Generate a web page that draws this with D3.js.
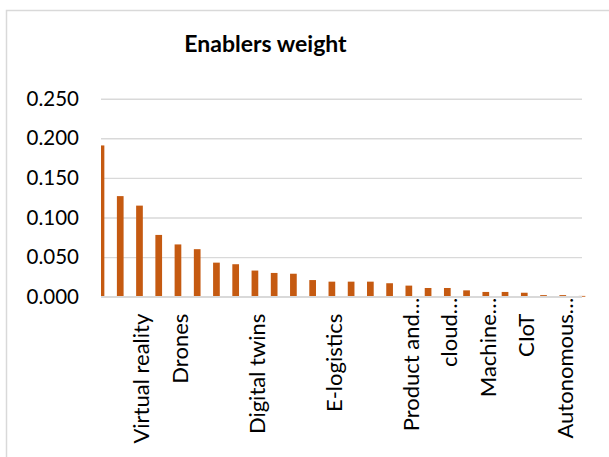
<!DOCTYPE html>
<html>
<head>
<meta charset="utf-8">
<script src="https://cdn.jsdelivr.net/npm/d3@7"></script>
<style>
  html, body { margin: 0; padding: 0; background: #fff; }
  svg { display: block; }
  text { font-family: Lato, "Open Sans", sans-serif; fill: #000; }
</style>
</head>
<body>
<svg id="chart" width="609" height="457"></svg>
<script>
// Weight of each enabler, in ranked order
const weights = [0.191, 0.127, 0.115, 0.078, 0.066, 0.060, 0.043, 0.041, 0.033,
                 0.030, 0.029, 0.021, 0.019, 0.019, 0.019, 0.017, 0.014, 0.011,
                 0.011, 0.008, 0.006, 0.006, 0.005, 0.002, 0.002, 0.001];
// Category labels shown on the axis (only every other slot has room for one)
const categoryLabels = ["", "", "Virtual reality", "", "Drones", "", "", "",
                        "Digital twins", "", "", "", "E-logistics", "", "", "",
                        "Product and…", "", "cloud…", "", "Machine…", "", "CIoT", "",
                        "Autonomous…", ""];
const yTicks = [0, 0.05, 0.10, 0.15, 0.20, 0.25];
const chartTitle = "Enablers weight";

const svg = d3.select("#chart");
const plot = { left: 101, right: 582, top: 98.7, bottom: 296.7 };

// outer chart frame
svg.append("rect")
  .attr("x", 6.5).attr("y", 10.5)
  .attr("width", 640).attr("height", 480)
  .attr("fill", "none").attr("stroke", "#d9d9d9").attr("stroke-width", 1.5);

svg.append("text")
  .attr("x", 265.5).attr("y", 52)
  .attr("text-anchor", "middle")
  .style("font-weight", "bold").style("font-size", "23px")
  .text(chartTitle);

const idx = d3.range(weights.length);
const x = d3.scalePoint().domain(idx).range([plot.left, plot.right]);
const y = d3.scaleLinear().domain([0, 0.25]).range([plot.bottom, plot.top]);

// gridlines + value axis labels
const yAxis = d3.axisLeft(y).tickValues(yTicks).tickFormat(d3.format(".3f"))
  .tickSize(-(plot.right - plot.left)).tickPadding(22);
const gy = svg.append("g").attr("transform", `translate(${plot.left},0)`).call(yAxis);
gy.select(".domain").remove();
gy.selectAll(".tick line").attr("stroke", "#d9d9d9").attr("stroke-width", 1.4);
gy.selectAll(".tick text").style("font-size", "20.5px").attr("font-family", null);

// bars, clipped to the plot area so the first bar sits on the edge
svg.append("clipPath").attr("id", "plotClip")
  .append("rect").attr("x", plot.left).attr("y", 0)
  .attr("width", plot.right - plot.left + 6).attr("height", plot.bottom + 1);

const barW = 6.7;
svg.append("g").attr("clip-path", "url(#plotClip)")
  .selectAll("rect").data(idx).join("rect")
  .attr("x", i => x(i) - barW / 2)
  .attr("width", barW)
  .attr("y", i => y(weights[i]))
  .attr("height", i => y(0) - y(weights[i]))
  .attr("fill", "#c55a11");

// category axis
const xAxis = d3.axisBottom(x).tickSize(0).tickFormat(i => categoryLabels[i]);
const gx = svg.append("g").attr("transform", `translate(0,${plot.bottom})`).call(xAxis);
gx.select(".domain").attr("stroke", "#d9d9d9").attr("stroke-width", 1.4)
  .attr("d", `M${plot.left},0H${plot.right}`);
gx.selectAll(".tick text")
  .attr("font-family", null)
  .style("font-size", "22px")
  .attr("text-anchor", "end")
  .attr("dy", null)
  .attr("transform", d => {
    const off = categoryLabels[d].endsWith("…") ? 1 : 17;
    return `translate(9.5,${off}) rotate(-90)`;
  })
  .attr("x", 0).attr("y", 0);
</script>
</body>
</html>
